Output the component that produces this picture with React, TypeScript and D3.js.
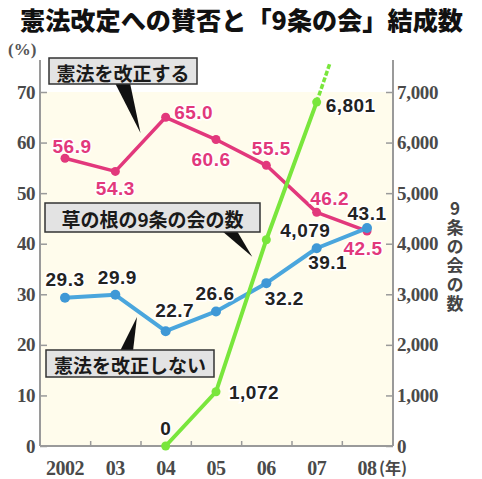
import { useEffect, useRef } from 'react'
import * as d3 from 'd3'

// 調査年
const years = [2002, 2003, 2004, 2005, 2006, 2007, 2008]
const yearLabels = ['2002', '03', '04', '05', '06', '07', '08']
// 憲法を改正する (%)
const reviseYes = [56.9, 54.3, 65.0, 60.6, 55.5, 46.2, 42.5]
// 憲法を改正しない (%)
const reviseNo = [29.3, 29.9, 22.7, 26.6, 32.2, 39.1, 43.1]
// 草の根の9条の会の数
const clubYears = [2004, 2005, 2006, 2007]
const clubCounts = [0, 1072, 4079, 6801]
const clubTrendYears = [2007, 2007.26]
const clubTrendCounts = [6801, 7560]

const leftTicks = [0, 10, 20, 30, 40, 50, 60, 70]
const rightTicks = [0, 1000, 2000, 3000, 4000, 5000, 6000, 7000]

const PINK = '#e2387c'
const BLUE = '#4aa6dd'
const GREEN = '#79e63c'
const JP = '"Noto Sans CJK JP", sans-serif'
const NUM = '"Liberation Sans", Arial, sans-serif'
const SERIF = '"Liberation Serif", "Times New Roman", serif'

// label offsets (px) from each point
const yesOffsets = [[7, -12], [0, 17], [28, -5], [-5, 20], [5, -17], [13, -14], [-4, 17]]
const noOffsets = [[0, -18], [2, -17], [9, -21], [-1, -18], [18, 15], [11, 14], [0, -15]]
const clubOffsets = [[0, -18], [38, 1], [39, -9], [34, 3]]

const App = () => {
  const svgRef = useRef<SVGSVGElement>(null)

  useEffect(() => {
    const W = 482
    const H = 479
    const left = 40
    const right = 393
    const bottom = 446
    const top = 60

    const svg = d3.select(svgRef.current)
    svg.selectAll('*').remove()
    svg.attr('width', W).attr('height', H)

    const x = d3.scaleLinear().domain([2002, 2008]).range([65, 367])
    const yL = d3.scaleLinear().domain([0, 70]).range([bottom, 92])
    const yR = d3.scaleLinear().domain([0, 7000]).range([bottom, 92])

    svg.append('rect').attr('width', W).attr('height', H).attr('fill', '#fff')
    svg.append('rect')
      .attr('x', left).attr('y', yL(70))
      .attr('width', right - left).attr('height', bottom - yL(70))
      .attr('fill', '#fffcec')

    // title
    svg.append('text')
      .attr('x', 20).attr('y', 30)
      .attr('textLength', 443).attr('lengthAdjust', 'spacingAndGlyphs')
      .attr('font-family', JP).attr('font-weight', 900).attr('font-size', 25)
      .attr('fill', '#111')
      .text('憲法改定への賛否と「9条の会」結成数')

    svg.append('text')
      .attr('x', 8).attr('y', 55)
      .attr('font-family', SERIF).attr('font-size', 17).attr('font-weight', 'bold')
      .attr('fill', '#555')
      .text('(%)')

    // axes
    const axisColor = '#9a9a9a'
    const gl = svg.append('g').attr('transform', `translate(${left},0)`)
      .call(d3.axisLeft(yL).tickValues(leftTicks).tickSize(-7).tickPadding(5).tickFormat(d3.format('d')))
    const gr = svg.append('g').attr('transform', `translate(${right},0)`)
      .call(d3.axisRight(yR).tickValues(rightTicks).tickSize(-7).tickPadding(4).tickFormat(d3.format(',')))
    const mids = years.slice(1).map((y) => y - 0.5)
    const gb = svg.append('g').attr('transform', `translate(0,${bottom})`)
      .call(d3.axisBottom(x).tickValues(mids).tickSize(-5).tickFormat(() => ''))

    for (const g of [gl, gr, gb]) {
      g.select('.domain').remove()
      g.selectAll('line').attr('stroke', axisColor).attr('stroke-width', 1.5)
      g.selectAll('text')
        .attr('font-family', SERIF).attr('font-size', 19).attr('font-weight', 'bold')
        .attr('fill', '#4a4a4a')
    }
    gl.selectAll('text').attr('letter-spacing', -0.5)
    gr.selectAll('text').attr('letter-spacing', -0.3)

    svg.append('line').attr('x1', left).attr('x2', left).attr('y1', top).attr('y2', bottom)
      .attr('stroke', axisColor).attr('stroke-width', 2)
    svg.append('line').attr('x1', right).attr('x2', right).attr('y1', top).attr('y2', bottom)
      .attr('stroke', axisColor).attr('stroke-width', 2)
    svg.append('line').attr('x1', left).attr('x2', right).attr('y1', bottom).attr('y2', bottom)
      .attr('stroke', axisColor).attr('stroke-width', 2)

    // year labels
    svg.selectAll('.yr').data(years).enter().append('text')
      .attr('x', (d) => x(d)).attr('y', 475)
      .attr('text-anchor', 'middle')
      .attr('font-family', SERIF).attr('font-size', 20).attr('font-weight', 'bold')
      .attr('letter-spacing', -0.5)
      .attr('fill', '#4a4a4a')
      .text((_, i) => yearLabels[i])
    svg.append('text')
      .attr('x', x(2008) + 12).attr('y', 474)
      .attr('font-family', JP).attr('font-size', 16).attr('font-weight', 'bold')
      .attr('fill', '#4a4a4a')
      .text('(年)')

    // right axis title, vertical
    svg.append('text')
      .attr('x', 455).attr('y', 200)
      .style('writing-mode', 'vertical-rl')
      .style('text-orientation', 'upright')
      .attr('letter-spacing', 2)
      .attr('font-family', JP).attr('font-size', 17).attr('font-weight', 'bold')
      .attr('fill', '#444')
      .text('9条の会の数')

    // callouts
    const callouts = [
      { text: '憲法を改正する', box: [49, 58, 148, 26], base: [115, 130], tip: [2003.5, 61.9], up: false },
      { text: '草の根の9条の会の数', box: [45, 203, 215, 29], base: [222, 237], tip: [2005.72, 37.4], up: false },
      { text: '憲法を改正しない', box: [46, 350, 168, 27], base: [120, 133], tip: [2003.43, 25.5], up: true },
    ]
    for (const c of callouts) {
      const [, by, , bh] = c.box
      const baseY = c.up ? by + 1 : by + bh - 1
      svg.append('path')
        .attr('d', `M${c.base[0]},${baseY}L${c.base[1]},${baseY}L${x(c.tip[0])},${yL(c.tip[1])}Z`)
        .attr('fill', '#111')
    }

    const lineYes = d3.line<number>().x((_, i) => x(years[i])).y((d) => yL(d))
    svg.append('path').datum(reviseYes).attr('d', lineYes)
      .attr('fill', 'none').attr('stroke', PINK).attr('stroke-width', 3.5).attr('stroke-linejoin', 'round')
    svg.selectAll('.py').data(reviseYes).enter().append('circle')
      .attr('cx', (_, i) => x(years[i])).attr('cy', (d) => yL(d)).attr('r', 4.5).attr('fill', PINK)

    svg.append('path').datum(reviseNo).attr('d', lineYes)
      .attr('fill', 'none').attr('stroke', BLUE).attr('stroke-width', 4).attr('stroke-linejoin', 'round')
    svg.selectAll('.pn').data(reviseNo).enter().append('circle')
      .attr('cx', (_, i) => x(years[i])).attr('cy', (d) => yL(d)).attr('r', 5).attr('fill', '#3f98d6')

    for (const c of callouts) {
      const [bx, by, bw, bh] = c.box
      svg.append('rect').attr('x', bx).attr('y', by).attr('width', bw).attr('height', bh)
        .attr('fill', '#e3e3e3').attr('stroke', '#333').attr('stroke-width', 1.5)
      svg.append('text')
        .attr('x', bx + bw / 2).attr('y', by + bh / 2 + 1)
        .attr('text-anchor', 'middle').attr('dominant-baseline', 'central')
        .attr('font-family', JP).attr('font-size', 19).attr('font-weight', 'bold')
        .attr('fill', '#1a1a1a')
        .text(c.text)
    }

    // club count line
    const lineClub = d3.line<number>().x((_, i) => x(clubYears[i])).y((d) => yR(d))
    svg.append('path').datum(clubCounts).attr('d', lineClub)
      .attr('fill', 'none').attr('stroke', GREEN).attr('stroke-width', 4)
    const lineTrend = d3.line<number>().x((_, i) => x(clubTrendYears[i])).y((d) => yR(d))
    svg.append('path').datum(clubTrendCounts).attr('d', lineTrend)
      .attr('fill', 'none').attr('stroke', GREEN).attr('stroke-width', 3.5).attr('stroke-dasharray', '5,2')
    svg.selectAll('.pc').data(clubCounts).enter().append('circle')
      .attr('cx', (_, i) => x(clubYears[i])).attr('cy', (d) => yR(d)).attr('r', 4.5).attr('fill', GREEN)

    // value labels
    const label = (px: number, py: number, off: number[], txt: string, color: string) => {
      svg.append('text')
        .attr('x', px + off[0]).attr('y', py + off[1])
        .attr('text-anchor', 'middle').attr('dominant-baseline', 'central')
        .attr('font-family', NUM).attr('font-size', 19).attr('font-weight', 'bold')
        .attr('letter-spacing', 0.5)
        .attr('fill', color)
        .attr('stroke', '#fff').attr('stroke-width', 3).attr('paint-order', 'stroke')
        .text(txt)
    }
    reviseYes.forEach((v, i) => label(x(years[i]), yL(v), yesOffsets[i], v.toFixed(1), PINK))
    reviseNo.forEach((v, i) => label(x(years[i]), yL(v), noOffsets[i], v.toFixed(1), '#222'))
    clubCounts.forEach((v, i) => label(x(clubYears[i]), yR(v), clubOffsets[i], d3.format(',')(v), '#222'))
  }, [])

  return <svg ref={svgRef} style={{ position: 'absolute', left: 0, top: 0 }}></svg>
}

export default App
